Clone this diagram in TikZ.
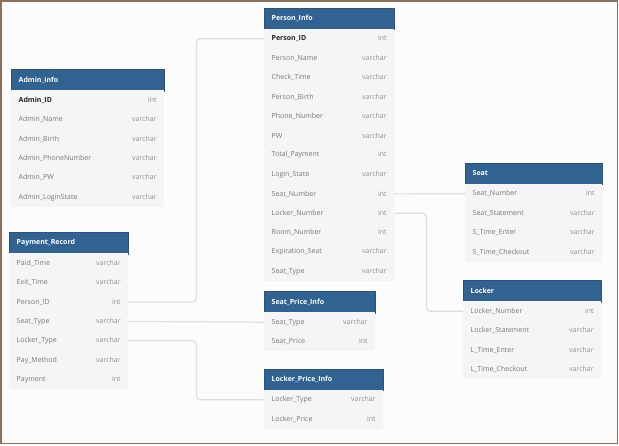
\documentclass[tikz,border=0pt]{standalone}
\usepackage{fontspec}
\setmainfont{Open Sans}
\usepackage{tikz}
\usetikzlibrary{positioning,calc}
\definecolor{colorHDR}{RGB}{49,99,146}
\definecolor{colorBODY}{RGB}{245,245,245}
\definecolor{colorBG}{RGB}{252,252,252}
\definecolor{colorNAME}{RGB}{120,120,120}
\definecolor{colorTYPE}{RGB}{145,145,145}
\definecolor{colorKEY}{RGB}{35,35,35}
\definecolor{colorLINK}{RGB}{222,222,222}
\definecolor{colorFRAME}{RGB}{140,112,90}
\newcommand{\pkey}[1]{{\bfseries\color{colorKEY}#1}}
\newcommand{\ftype}[1]{{\color{colorTYPE}#1}}
\tikzset{
   every node/.style={font=\fontsize{7}{8}\selectfont},
   hdr/.style={anchor=north west,fill=colorHDR,draw=colorHDR!85!black,line width=0.4pt,
     text=white,font=\fontsize{7}{8}\selectfont\bfseries,minimum height=21.5pt,
     inner ysep=0pt,inner xsep=7.5pt,align=left},
   row/.style={anchor=west,fill=colorBODY,text=colorNAME,minimum height=19.6pt,
     inner ysep=0pt,inner xsep=7.5pt,align=left},
   link/.style={-,draw=colorLINK,line width=1.2pt,rounded corners=4pt},
   frame/.style={draw=colorFRAME,line width=1.5pt,fill=colorBG},
}

\begin{document}
\begin{tikzpicture}[x=1pt,y=-1pt]
      \useasboundingbox (0,0) rectangle (619,445);
      \draw[frame] (1,1) rectangle (617.5,443.5);
      % Admin_info
      \node[hdr,text width=138pt] (admin) at (11,69) {Admin\_info};
      \node[row,text width=138pt] (ad1) at (11,100.2) {\pkey{Admin\_ID}\hfill\ftype{int}};
      \node[row,text width=138pt] (ad2) at (11,119.6) {Admin\_Name\hfill\ftype{varchar}};
      \node[row,text width=138pt] (ad3) at (11,139.0) {Admin\_Birth\hfill\ftype{varchar}};
      \node[row,text width=138pt] (ad4) at (11,158.4) {Admin\_PhoneNumber\hfill\ftype{varchar}};
      \node[row,text width=138pt] (ad5) at (11,177.8) {Admin\_PW\hfill\ftype{varchar}};
      \node[row,text width=138pt] (ad6) at (11,197.2) {Admin\_LoginState\hfill\ftype{varchar}};
      % Person_Info
      \node[hdr,text width=115pt] (person) at (264,7.5) {Person\_Info};
      \node[row,text width=115pt] (pi1) at (264,38.7) {\pkey{Person\_ID}\hfill\ftype{int}};
      \node[row,text width=115pt] (pi2) at (264,58.1) {Person\_Name\hfill\ftype{varchar}};
      \node[row,text width=115pt] (pi3) at (264,77.5) {Check\_Time\hfill\ftype{varchar}};
      \node[row,text width=115pt] (pi4) at (264,96.9) {Person\_Birth\hfill\ftype{varchar}};
      \node[row,text width=115pt] (pi5) at (264,116.3) {Phone\_Number\hfill\ftype{varchar}};
      \node[row,text width=115pt] (pi6) at (264,135.7) {PW\hfill\ftype{varchar}};
      \node[row,text width=115pt] (pi7) at (264,155.1) {Total\_Payment\hfill\ftype{int}};
      \node[row,text width=115pt] (pi8) at (264,174.5) {Login\_State\hfill\ftype{varchar}};
      \node[row,text width=115pt] (pi9) at (264,193.9) {Seat\_Number\hfill\ftype{int}};
      \node[row,text width=115pt] (pi10) at (264,213.3) {Locker\_Number\hfill\ftype{int}};
      \node[row,text width=115pt] (pi11) at (264,232.7) {Room\_Number\hfill\ftype{int}};
      \node[row,text width=115pt] (pi12) at (264,252.1) {Expiration\_Seat\hfill\ftype{varchar}};
      \node[row,text width=115pt] (pi13) at (264,271.5) {Seat\_Type\hfill\ftype{varchar}};
      % Seat
      \node[hdr,text width=122pt] (seat) at (465,162.5) {Seat};
      \node[row,text width=122pt] (st1) at (465,193.7) {Seat\_Number\hfill\ftype{int}};
      \node[row,text width=122pt] (st2) at (465,213.1) {Seat\_Statement\hfill\ftype{varchar}};
      \node[row,text width=122pt] (st3) at (465,232.5) {S\_Time\_Enter\hfill\ftype{varchar}};
      \node[row,text width=122pt] (st4) at (465,251.9) {S\_Time\_Checkout\hfill\ftype{varchar}};
      % Locker
      \node[hdr,text width=123pt] (locker) at (463,280) {Locker};
      \node[row,text width=123pt] (lk1) at (463,311.2) {Locker\_Number\hfill\ftype{int}};
      \node[row,text width=123pt] (lk2) at (463,330.6) {Locker\_Statement\hfill\ftype{varchar}};
      \node[row,text width=123pt] (lk3) at (463,350.0) {L\_Time\_Enter\hfill\ftype{varchar}};
      \node[row,text width=123pt] (lk4) at (463,369.4) {L\_Time\_Checkout\hfill\ftype{varchar}};
      % Payment_Record
      \node[hdr,text width=104pt] (pay) at (9,232) {Payment\_Record};
      \node[row,text width=104pt] (pr1) at (9,263.2) {Paid\_Time\hfill\ftype{varchar}};
      \node[row,text width=104pt] (pr2) at (9,282.6) {Exit\_Time\hfill\ftype{varchar}};
      \node[row,text width=104pt] (pr3) at (9,302.0) {Person\_ID\hfill\ftype{int}};
      \node[row,text width=104pt] (pr4) at (9,321.4) {Seat\_Type\hfill\ftype{varchar}};
      \node[row,text width=104pt] (pr5) at (9,340.8) {Locker\_Type\hfill\ftype{varchar}};
      \node[row,text width=104pt] (pr6) at (9,360.2) {Pay\_Method\hfill\ftype{varchar}};
      \node[row,text width=104pt] (pr7) at (9,379.6) {Payment\hfill\ftype{int}};
      % Seat_Price_Info
      \node[hdr,text width=96pt] (sprice) at (264,291) {Seat\_Price\_Info};
      \node[row,text width=96pt] (sp1) at (264,322.2) {Seat\_Type\hfill\ftype{varchar}};
      \node[row,text width=96pt] (sp2) at (264,341.6) {Seat\_Price\hfill\ftype{int}};
      % Locker_Price_Info
      \node[hdr,text width=104pt] (lprice) at (264,368.5) {Locker\_Price\_Info};
      \node[row,text width=104pt] (lp1) at (264,399.7) {Locker\_Type\hfill\ftype{varchar}};
      \node[row,text width=104pt] (lp2) at (264,419.1) {Locker\_Price\hfill\ftype{int}};
      % relations
      \draw[link] (pr3.east) -- ++(68,0) |- (pi1.west);
      \draw[link] (pi9.east) -- (st1.west);
      \draw[link] (pi10.east) -- ++(32,0) |- (lk1.west);
      \draw[link] (pr4.east) -- (sp1.west);
      \draw[link] (pr5.east) -- ++(68,0) |- (lp1.west);
    \end{tikzpicture}
\end{document}
